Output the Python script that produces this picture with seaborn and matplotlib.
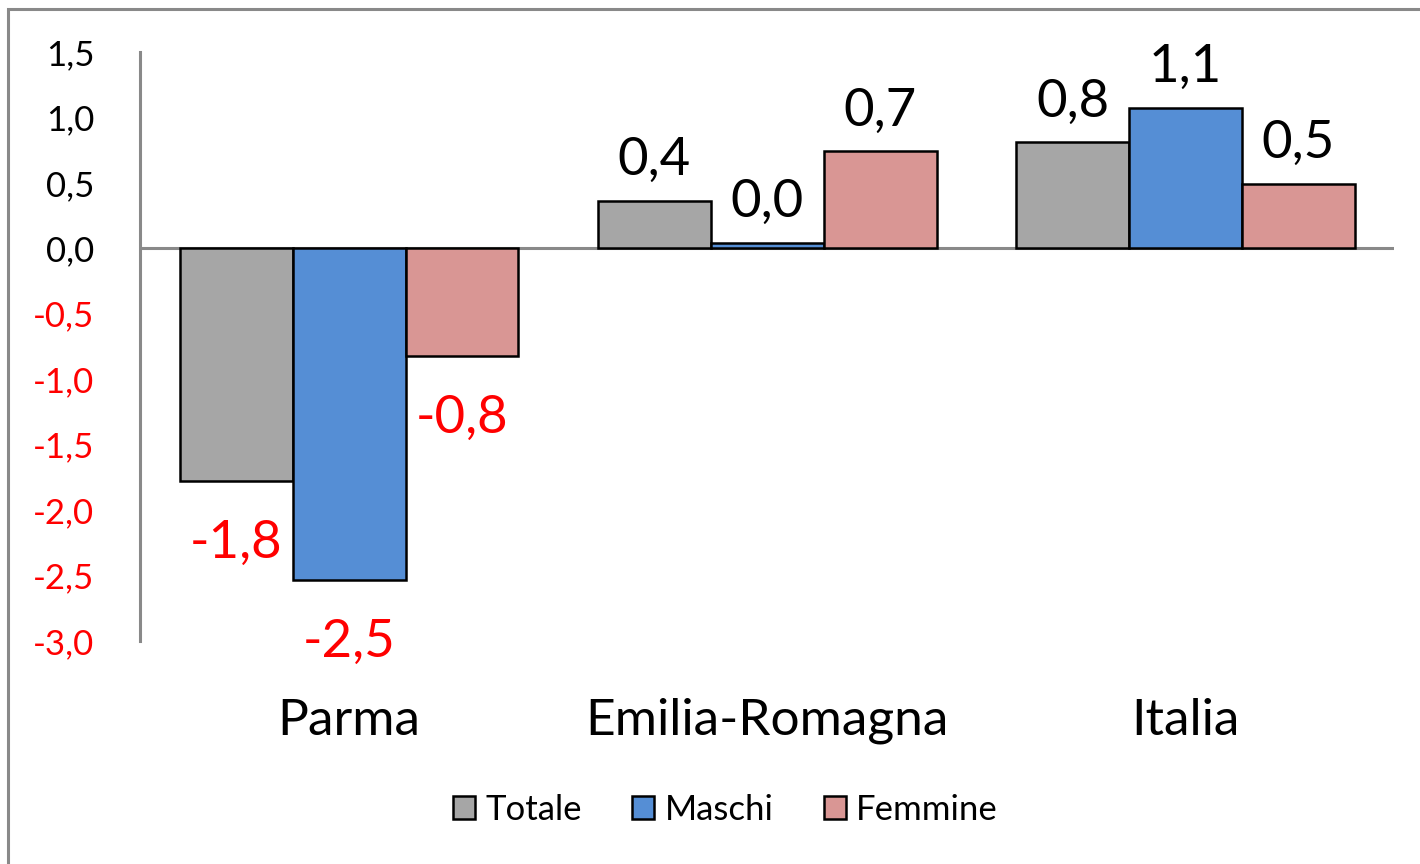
import pandas as pd
import numpy as np
import matplotlib
matplotlib.use("Agg")
import matplotlib.pyplot as plt
import seaborn as sns
from matplotlib.patches import Rectangle

aree = ["Parma", "Emilia-Romagna", "Italia"]
serie = ["Totale", "Maschi", "Femmine"]
totale = [-1.78, 0.36, 0.81]
maschi = [-2.53, 0.04, 1.07]
femmine = [-0.82, 0.74, 0.49]
colori = ["#A6A6A6", "#558ED5", "#D99694"]

df = pd.DataFrame({
    "area": aree * 3,
    "serie": np.repeat(serie, 3),
    "valore": totale + maschi + femmine,
})

sns.set_style("white")
plt.rcParams["font.family"] = ["Lato", "DejaVu Sans"]
plt.rcParams["text.color"] = "black"

fig = plt.figure(figsize=(14.2, 8.64), dpi=100)
ax = fig.add_axes([0.0986, 0.258, 0.8834, 0.682])

sns.barplot(data=df, x="area", y="valore", hue="serie", order=aree, hue_order=serie,
            palette=colori, saturation=1, width=0.81, edgecolor="black", linewidth=1.8, ax=ax)

ax.set_xlim(-0.5, 2.5)
ax.set_ylim(-3.0, 1.5)
yt = np.arange(-3.0, 1.51, 0.5)
ax.set_yticks(yt)
ax.set_yticklabels([f"{v:.1f}".replace(".", ",") for v in yt])
for lab, v in zip(ax.get_yticklabels(), yt):
    lab.set_color("red" if v < 0 else "black")
ax.tick_params(axis="y", length=0, pad=33, labelsize=25)
ax.set_xticks([])
ax.set_xlabel("")
ax.set_ylabel("")

for s in ["top", "right", "bottom"]:
    ax.spines[s].set_visible(False)
ax.spines["left"].set_color("#898989")
ax.spines["left"].set_linewidth(2.2)
ax.axhline(0, color="#898989", linewidth=2.2, zorder=0.5)

# nomi delle aree sotto il grafico
for i, a in enumerate(aree):
    ax.text(i, -0.135, a, transform=ax.get_xaxis_transform(), ha="center", va="center",
            fontsize=37, color="black")

# etichette dei valori: sopra le barre positive, sotto quelle negative
for cont in ax.containers:
    for b in cont:
        v = b.get_height()
        testo = f"{v:.1f}".replace(".", ",").replace("-0,0", "0,0")
        x = b.get_x() + b.get_width() / 2
        off = 29 if v >= 0 else -45
        ax.annotate(testo, (x, v), xytext=(0, off), textcoords="offset points",
                    ha="center", va="center", fontsize=38,
                    color="red" if v < 0 else "black")

handles, labels = ax.get_legend_handles_labels()
ax.get_legend().remove()
fig.legend(handles, labels, loc="center", bbox_to_anchor=(0.511, 0.0625), ncol=3,
           frameon=False, fontsize=25, handlelength=0.63, handleheight=0.63,
           handletextpad=0.3, columnspacing=1.45, labelcolor="black")

fig.patches.append(Rectangle((8 / 1420, -0.05), 1.2, 1 - 9 / 864 + 0.05, transform=fig.transFigure,
                             fill=False, edgecolor="#898989", linewidth=2.2))

fig.savefig("out.png", dpi=100)
